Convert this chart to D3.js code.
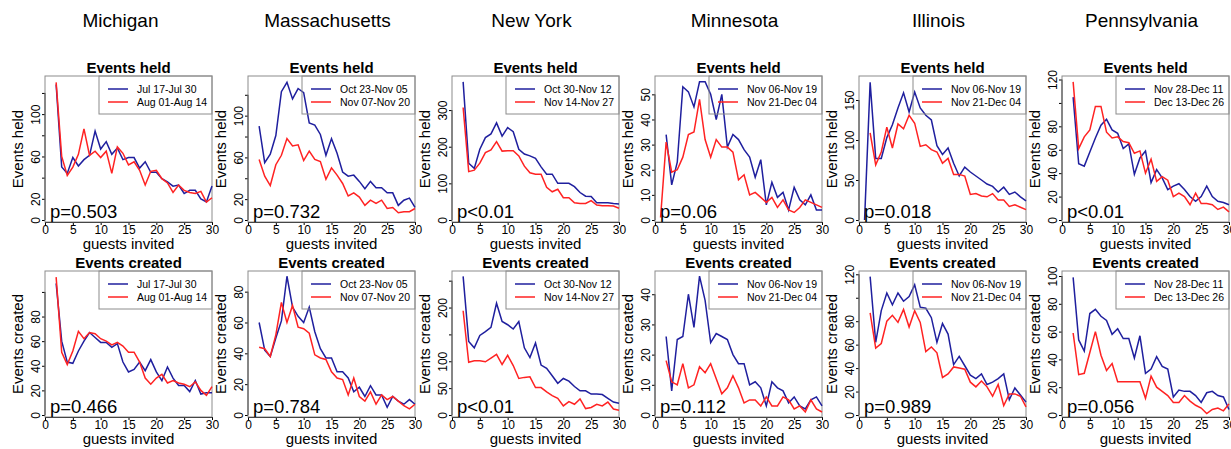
<!DOCTYPE html>
<html>
<head>
<meta charset="utf-8">
<script src="https://cdn.jsdelivr.net/npm/d3@7"></script>
<style>
  body { margin: 0; background: #fff; }
  svg { font-family: "Liberation Sans", Arial, sans-serif; }
</style>
</head>
<body>
<svg id="chart" width="1231" height="449"></svg>
<script>
'use strict';

const states = ["Michigan", "Massachusetts", "New York", "Minnesota", "Illinois", "Pennsylvania"];
const periodA = ["Jul 17-Jul 30", "Oct 23-Nov 05", "Oct 30-Nov 12", "Nov 06-Nov 19", "Nov 06-Nov 19", "Nov 28-Dec 11"];
const periodB = ["Aug 01-Aug 14", "Nov 07-Nov 20", "Nov 14-Nov 27", "Nov 21-Dec 04", "Nov 21-Dec 04", "Dec 13-Dec 26"];
const pHeld = ["p=0.503", "p=0.732", "p<0.01", "p=0.06", "p=0.018", "p<0.01"];
const pCreated = ["p=0.466", "p=0.784", "p<0.01", "p=0.112", "p=0.989", "p=0.056"];

const guests = [1,2,3,4,5,6,7,8,9,10,11,12,13,14,15,16,17,18,19,20,21,22,23,24,25,26,27,28,29,30];
const xTicks = [0, 5, 10, 15, 20, 25, 30];

// events held, first period (blue) and second period (red)
const miHeldA = [null,128,50,44,59,51,57,61,84,67,74,62,68,57,59,59,49,55,45,45,39,36,32,33,25,28,28,20,17,32];
const miHeldB = [null,130,60,42,50,62,86,61,65,59,65,44,69,63,52,55,47,33,46,47,39,35,26,33,28,26,25,27,17,21];
const maHeldA = [null,90,55,63,81,123,132,116,126,122,93,91,82,62,78,64,46,42,43,37,30,37,31,31,26,26,14,19,21,12];
const maHeldB = [null,58,42,33,53,62,78,71,72,57,66,58,56,39,50,43,35,23,26,22,14,19,16,19,11,12,7,8,8,11];
const nyHeldA = [null,377,155,141,193,225,235,265,229,252,241,193,180,175,168,145,125,125,100,100,100,91,75,65,64,47,47,47,45,44];
const nyHeldB = [null,307,132,136,155,184,191,214,188,189,189,175,147,129,125,125,89,77,84,61,61,47,45,45,53,41,39,39,38,32];
const mnHeldA = [null,34,14,23,53,51,45,55,55,50,40,50,29,34,32,28,25,17,24,6,15,9,11,4,13,8,6,10,4,4];
const mnHeldB = [1,31,19,20,25,34,35,48,32,25,32,29,29,27,16,18,10,11,9,7,9,5,8,4,3,5,8,7,6,5];
const ilHeldA = [0,172,77,77,103,119,140,159,135,160,140,131,125,93,82,90,71,55,66,60,55,50,45,42,35,41,32,35,29,24];
const ilHeldB = [null,109,69,85,116,90,120,114,131,121,92,94,88,85,71,77,57,57,55,32,33,30,29,33,25,25,17,19,16,13];
const paHeldA = [null,105,48,46,58,70,81,86,77,74,61,65,39,53,59,32,43,36,26,29,31,26,20,16,20,29,20,16,15,13];
const paHeldB = [null,118,61,71,77,97,97,75,70,71,67,66,57,59,40,52,33,37,34,20,23,20,13,23,14,14,13,9,11,7];

// events created
const miCreatedA = [null,107,60,43,42,52,60,67,63,59,59,55,58,43,35,37,43,36,45,35,28,39,30,24,24,19,28,17,18,18];
const miCreatedB = [null,112,51,41,52,68,62,67,66,62,60,57,59,56,51,51,43,30,25,30,33,26,28,26,25,23,27,20,16,23];
const maCreatedA = [null,60,42,38,50,61,90,70,64,60,70,54,43,37,37,28,28,24,15,18,12,19,13,13,5,12,9,7,10,7];
const maCreatedB = [null,44,43,38,52,73,60,71,57,56,53,39,37,36,28,24,23,13,24,12,9,15,7,13,10,12,9,6,4,7];
const nyCreatedA = [null,258,137,125,148,155,163,208,174,168,160,174,125,107,134,93,87,73,59,68,63,53,45,45,39,39,38,31,24,22];
const nyCreatedB = [null,194,98,101,101,99,106,113,94,111,92,68,70,71,51,51,43,36,31,17,25,20,30,12,14,20,17,24,11,9];
const mnCreatedA = [null,26,8,25,26,40,29,46,38,24,27,26,25,20,17,17,10,11,9,3,11,9,8,4,6,3,2,5,6,3];
const mnCreatedB = [null,18,11,10,17,9,10,16,14,17,12,7,9,13,9,4,5,5,3,6,3,3,6,5,2,3,1,5,2,1];
const ilCreatedA = [null,118,62,89,104,94,104,97,101,111,92,91,83,62,78,69,43,50,42,34,31,35,26,28,31,35,13,23,17,11];
const ilCreatedB = [null,87,57,61,80,85,79,90,75,89,79,54,58,53,32,35,41,40,39,28,24,29,24,16,26,8,18,18,16,7];
const paCreatedA = [null,99,54,46,73,76,71,68,58,62,55,55,41,57,30,33,42,35,33,13,18,17,17,14,9,16,17,14,13,4];
const paCreatedB = [null,59,29,30,45,60,43,32,37,24,24,24,24,24,12,28,20,17,14,9,9,14,10,7,5,1,4,5,3,8];

// y axis limits, tick positions and which ticks carry a label
const heldYMax = [136, 138, 393, 57.3, 180, 123];
const createdYMax = [117, 93.4, 268, 47.7, 122.8, 103.6];
const heldTicks = [[0,20,40,60,80,100,120],[0,20,40,60,80,100,120],[0,100,200,300],[0,10,20,30,40,50],[0,50,100,150],[0,20,40,60,80,100,120]];
const heldLabels = [[0,20,60,100],[0,20,60,100],[0,100,200,300],[0,10,20,30,40,50],[0,50,100,150],[0,20,40,60,80,120]];
const createdTicks = [[0,20,40,60,80,100],[0,20,40,60,80],[0,50,100,150,200,250],[0,10,20,30,40],[0,20,40,60,80,100,120],[0,20,40,60,80,100]];
const createdLabels = [[0,20,40,60,80],[0,20,40,60,80],[0,50,100,200],[0,10,20,30,40],[0,20,40,60,80,120],[0,20,40,60,80,100]];

const heldA = [miHeldA, maHeldA, nyHeldA, mnHeldA, ilHeldA, paHeldA];
const heldB = [miHeldB, maHeldB, nyHeldB, mnHeldB, ilHeldB, paHeldB];
const createdA = [miCreatedA, maCreatedA, nyCreatedA, mnCreatedA, ilCreatedA, paCreatedA];
const createdB = [miCreatedB, maCreatedB, nyCreatedB, mnCreatedB, ilCreatedB, paCreatedB];

const blue = "#1f1f9e", red = "#ff2222";
const colLeft = [45, 248, 452, 655, 859, 1062];
const boxW = 167;
const rows = [
	{ top: 76, bottom: 222, title: "Events held", ylab: "Events held", A: heldA, B: heldB, ymax: heldYMax, ticks: heldTicks, labels: heldLabels, p: pHeld },
	{ top: 271, bottom: 417, title: "Events created", ylab: "Events created", A: createdA, B: createdB, ymax: createdYMax, ticks: createdTicks, labels: createdLabels, p: pCreated }
];

let svg = d3.select("#chart");

states.forEach(function (name, c) {
	svg.append("text")
		.attr("x", colLeft[c] + boxW / 2 - (c === 0 ? 8 : 4))
		.attr("y", 27)
		.attr("text-anchor", "middle")
		.style("font-size", "19px")
		.text(name);
});

function drawPanel(row, c) {
	let left = colLeft[c], right = left + boxW;
	let g = svg.append("g");

	let x = d3.scaleLinear().domain([0, 30]).range([left, right]);
	let y = d3.scaleLinear().domain([0, row.ymax[c]]).range([row.bottom - 2, row.top]);

	// x axis
	let xa = g.append("g")
		.attr("transform", "translate(0," + row.bottom + ")")
		.call(d3.axisBottom(x).tickValues(xTicks).tickSize(3).tickSizeOuter(0).tickPadding(0));
	xa.selectAll("text").style("font-size", "12px").attr("fill", "#000");
	xa.select(".domain").attr("stroke", "#000");

	// y axis, labels rotated like R's las=0
	let labels = row.labels[c];
	let ya = g.append("g")
		.attr("transform", "translate(" + left + ",0)")
		.call(d3.axisLeft(y).tickValues(row.ticks[c]).tickSize(3)
			.tickFormat(function (d) { return labels.indexOf(d) >= 0 ? d : ""; }));
	ya.select(".domain").remove();
	ya.selectAll("text")
		.attr("x", 0).attr("y", -5).attr("dy", null)
		.attr("transform", "rotate(-90)")
		.attr("text-anchor", "middle")
		.style("font-size", "12px");
	let lastTick = d3.max(row.ticks[c]);
	g.append("line")
		.attr("x1", left).attr("x2", left)
		.attr("y1", y(0)).attr("y2", y(lastTick))
		.attr("stroke", "#000");

	// plot box
	g.append("rect")
		.attr("x", left).attr("y", row.top)
		.attr("width", boxW).attr("height", row.bottom - row.top)
		.attr("fill", "none").attr("stroke", "#8c8c8c");

	// series
	let line = d3.line()
		.defined(function (d) { return d[1] != null; })
		.x(function (d) { return x(d[0]); })
		.y(function (d) { return y(d[1]); });
	[[row.A[c], blue], [row.B[c], red]].forEach(function (s) {
		g.append("path")
			.datum(guests.map(function (gx, i) { return [gx, s[0][i]]; }))
			.attr("d", line)
			.attr("fill", "none")
			.attr("stroke", s[1])
			.attr("stroke-width", 1.5);
	});

	// title and axis labels
	g.append("text")
		.attr("x", (left + right) / 2).attr("y", row.top - 3)
		.attr("text-anchor", "middle")
		.style("font-size", "15px").style("font-weight", "bold")
		.text(row.title);
	g.append("text")
		.attr("x", (left + right) / 2).attr("y", row.bottom + 27)
		.attr("text-anchor", "middle")
		.style("font-size", "15px")
		.text("guests invited");
	g.append("text")
		.attr("transform", "translate(" + (left - 22) + "," + ((row.top + row.bottom) / 2) + ") rotate(-90)")
		.attr("text-anchor", "middle")
		.style("font-size", "15px")
		.text(row.ylab);

	// p value
	g.append("text")
		.attr("x", left + 5).attr("y", row.bottom - 4)
		.style("font-size", "18.5px")
		.text(row.p[c]);

	// legend
	let lg = g.append("g").attr("transform", "translate(" + (right - 113) + "," + row.top + ")");
	lg.append("rect")
		.attr("width", 113).attr("height", 38)
		.attr("fill", "none").attr("stroke", "#8c8c8c");
	[[periodA[c], blue], [periodB[c], red]].forEach(function (item, i) {
		let ly = 13 + i * 13;
		lg.append("line")
			.attr("x1", 9).attr("x2", 29).attr("y1", ly).attr("y2", ly)
			.attr("stroke", item[1]).attr("stroke-width", 1.5);
		lg.append("text")
			.attr("x", 38).attr("y", ly + 4)
			.style("font-size", "10.5px")
			.text(item[0]);
	});
}

rows.forEach(function (row) {
	states.forEach(function (s, c) { drawPanel(row, c); });
});
</script>
</body>
</html>
